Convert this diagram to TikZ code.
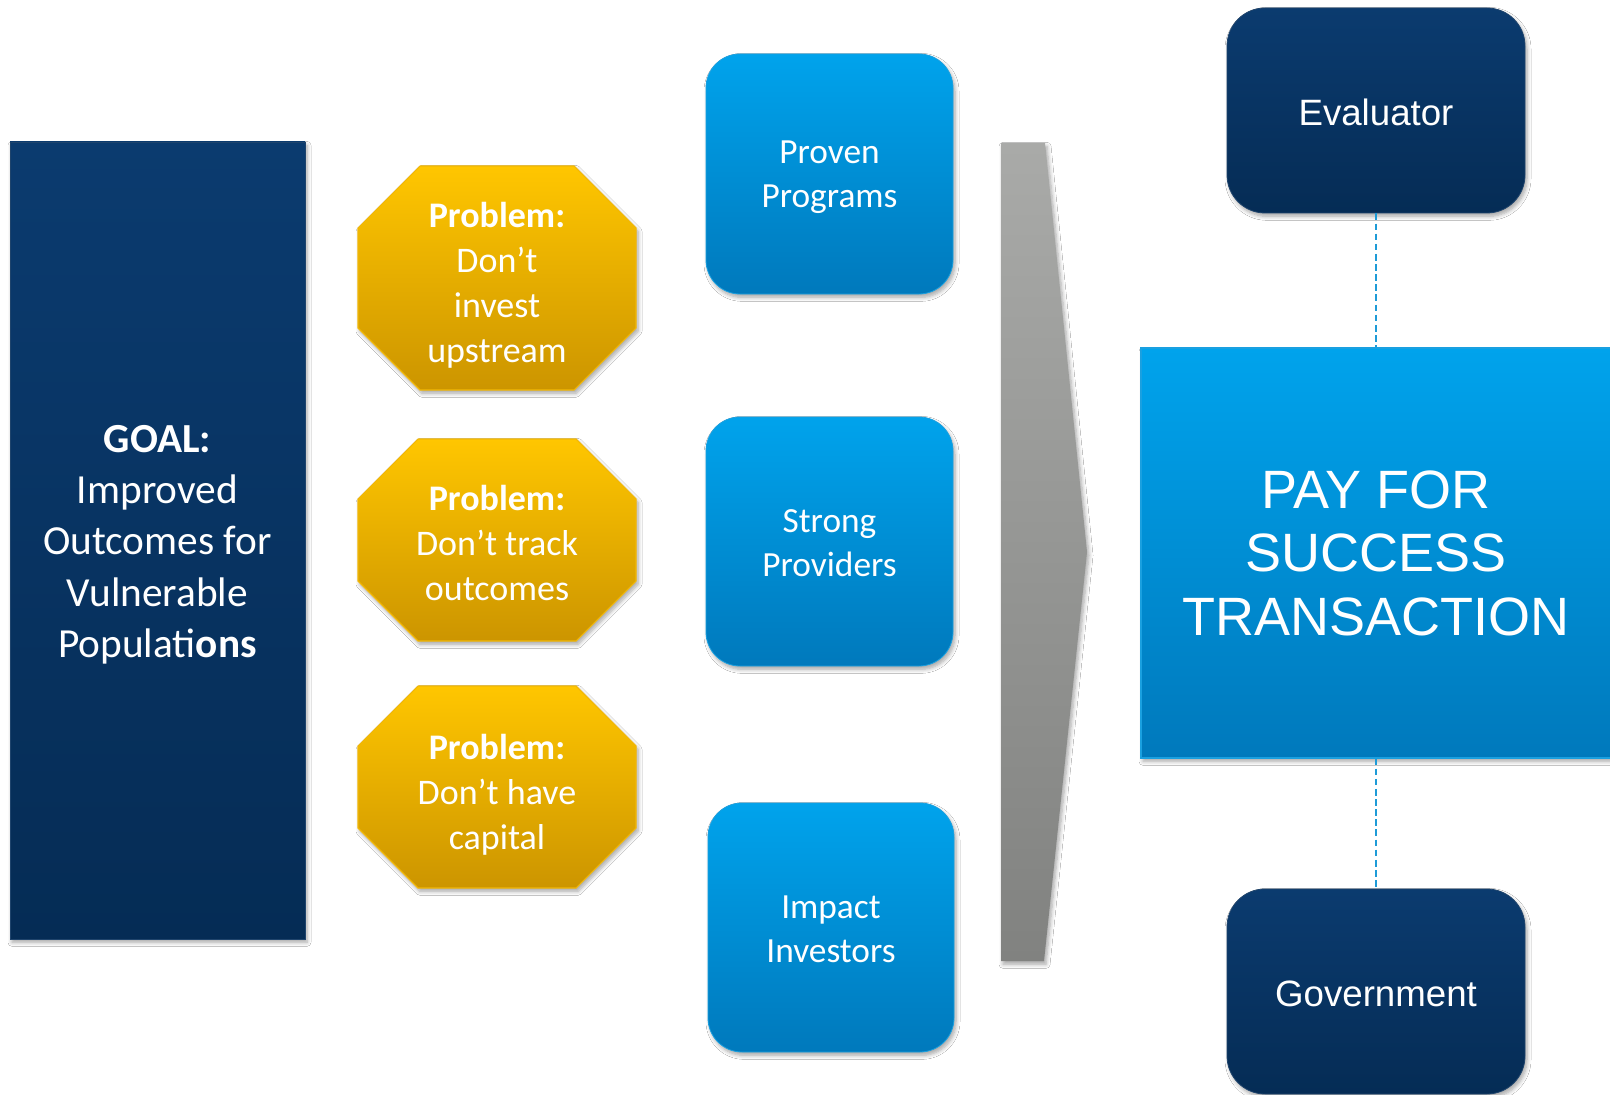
\documentclass[tikz,border=0pt]{standalone}
\usepackage{fontspec}
\setmainfont{Carlito}
\newfontfamily\arialfont{Liberation Sans}
\usetikzlibrary{shadows.blur}
\definecolor{navytop}{HTML}{0B3B6F}
\definecolor{navybot}{HTML}{052C55}
\definecolor{navyline}{HTML}{1F446C}
\definecolor{goldtop}{HTML}{FFC600}
\definecolor{goldbot}{HTML}{CC9500}
\definecolor{goldline}{HTML}{F2B705}
\definecolor{skytop}{HTML}{00A3EC}
\definecolor{skybot}{HTML}{0079BC}
\definecolor{skyline}{HTML}{1AA0E0}
\definecolor{graytop}{HTML}{A9AAA8}
\definecolor{graybot}{HTML}{818280}
\definecolor{dashblue}{HTML}{1E9BD7}
\tikzset{
  softshadow/.style={blur shadow={shadow xshift=1.5pt, shadow yshift=-2.5pt, shadow blur steps=6, shadow blur radius=3pt, shadow opacity=35}},
  goalbox/.style={rectangle, draw=navyline, line width=0.6pt, top color=navytop, bottom color=navybot, softshadow, text=white, align=center, inner sep=0pt},
  darkbox/.style={rectangle, rounded corners=28.5pt, draw=navyline, line width=0.6pt, top color=navytop, bottom color=navybot, softshadow, text=white, align=center, inner sep=0pt, minimum width=223.5pt, minimum height=153.75pt, font=\arialfont\fontsize{27.5}{33}\selectfont},
  skybox/.style={rectangle, rounded corners=25.5pt, draw=skyline, line width=0.6pt, top color=skytop, bottom color=skybot, softshadow, text=white, align=center, inner sep=0pt, font=\fontsize{26.5}{33}\selectfont},
  octshape/.style={draw=goldline, line width=0.8pt, top color=goldtop, bottom color=goldbot, softshadow},
  octtext/.style={text=white, align=center, inner sep=0pt, font=\fontsize{27}{33.75}\selectfont},
  chevshape/.style={top color=graytop, bottom color=graybot, softshadow},
  pfsbox/.style={rectangle, draw=skyline, line width=0.8pt, top color=skytop, bottom color=skybot, softshadow, text=white, align=center, inner sep=0pt, font=\arialfont\fontsize{40.5}{47.6}\selectfont},
  link/.style={draw=dashblue, line width=1.5pt, dash pattern=on 5pt off 2.6pt}
}
\begin{document}
\begin{tikzpicture}[x=0.75pt, y=-0.75pt]
\clip (0,0) rectangle (1610,1095);
\fill[white] (0,0) rectangle (1610,1095);

% goal
\node[goalbox, minimum width=221.25pt, minimum height=597.75pt, font=\fontsize{31}{38.5}\selectfont] (goal) at (157.5,540.5) {};
\node[text=white, align=center, inner sep=0pt, font=\fontsize{31}{38.5}\selectfont] (goaltext) at (157.5,544.5)
  {\textbf{GOAL:}\\Improved\\Outcomes for\\Vulnerable\\Populati\textbf{ons}};

% octagons
\path[octshape] (420,166) -- (574,166) -- (636,228) -- (636,328) -- (574,390) -- (420,390) -- (358,328) -- (358,228) -- cycle;
\node[octtext] (prob1) at (497,285) {\textbf{Problem:}\\Don’t\\invest\\upstream};
\path[octshape] (418,439) -- (576,439) -- (636,499) -- (636,581) -- (576,641) -- (418,641) -- (358,581) -- (358,499) -- cycle;
\node[octtext] (prob2) at (497,543) {\textbf{Problem:}\\Don’t track\\outcomes};
\path[octshape] (418,686) -- (576,686) -- (636,746) -- (636,828) -- (576,888) -- (418,888) -- (358,828) -- (358,746) -- cycle;
\node[octtext] (prob3) at (497,795) {\textbf{Problem:}\\Don’t have\\capital};

% blue boxes
\node[skybox, minimum width=185.25pt, minimum height=180pt] (proven) at (829.5,174) {};
\node[text=white, align=center, inner sep=0pt, font=\fontsize{26.5}{33}\selectfont] (proventext) at (829.5,177) {Proven\\Programs};
\node[skybox, minimum width=185.25pt, minimum height=186.75pt] (strong) at (829.5,541.5) {};
\node[text=white, align=center, inner sep=0pt, font=\fontsize{26.5}{33}\selectfont] (strongtext) at (829.5,543.5) {Strong\\Providers};
\node[skybox, minimum width=184.5pt, minimum height=186.75pt] (impact) at (831,927.5) {};
\node[text=white, align=center, inner sep=0pt, font=\fontsize{26.5}{33}\selectfont] (impacttext) at (831,929.5) {Impact\\Investors};

% chevron
\path[chevshape] (1001,143) -- (1045,143) -- (1087,552) -- (1044,961) -- (1001,961) -- cycle;

% right side
\node[pfsbox, minimum width=352.5pt, minimum height=307.5pt] (pfs) at (1376,553) {PAY FOR\\SUCCESS\\TRANSACTION};
\node[darkbox] (eval) at (1376,110.5) {};
\node[text=white, inner sep=0pt, font=\arialfont\fontsize{27.5}{33}\selectfont] (evaltext) at (1376,112.5) {Evaluator};
\node[darkbox] (gov) at (1376,991.5) {};
\node[text=white, inner sep=0pt, font=\arialfont\fontsize{27.5}{33}\selectfont] (govtext) at (1376,993.5) {Government};

\draw[link] (eval.south) -- (pfs.north);
\draw[link] (pfs.south) -- (gov.north);
\end{tikzpicture}
\end{document}
